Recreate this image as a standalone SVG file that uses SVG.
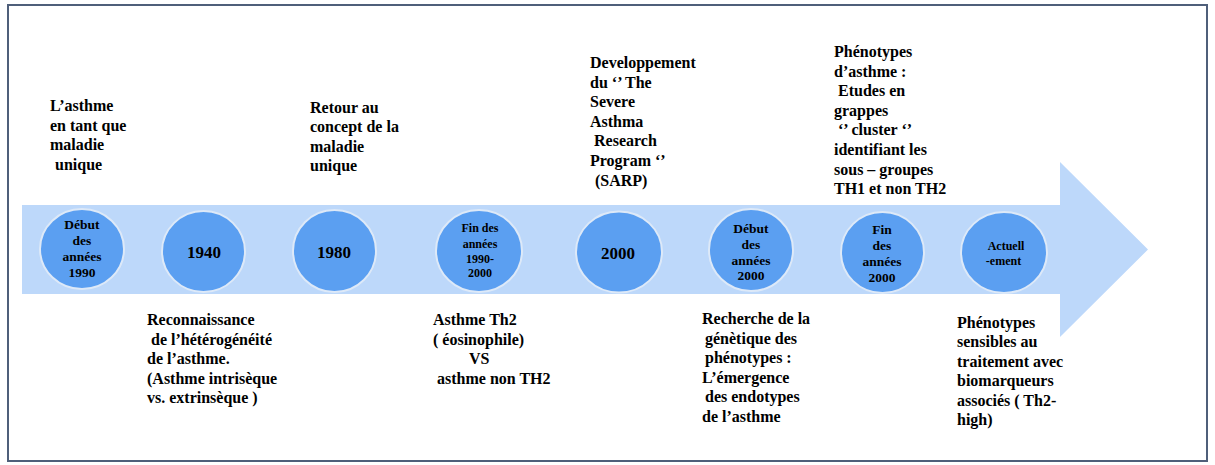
<svg xmlns="http://www.w3.org/2000/svg" width="1215" height="465" viewBox="0 0 1215 465">
<style>
.frame{fill:#fff;stroke:#4f5f7a;stroke-width:2}
.band{fill:#bdd8fa}
.dot{fill:#5b9ff1;stroke:#dde9f8;stroke-width:2}
.t{font-family:'Liberation Serif','Times New Roman','DejaVu Serif',serif;font-weight:700;fill:#000}
.lbl{font-size:16px}
.c{text-anchor:middle}
.cs{font-size:13.5px}
.cx{font-size:12px}
.cy{font-size:17px}
</style>
<rect class="frame" x="8" y="5" width="1199" height="456"/>
<g id="connectors">
<polygon class="band" points="22,205 1060,205 1060,162 1148,249.5 1060,337 1060,294 22,294"/>
</g>
<g font-family="Liberation Serif, Times New Roman, serif" font-weight="bold">
<g id="n1">
<ellipse class="dot" cx="82" cy="249" rx="42" ry="40"/>
<text class="t c cs" x="82"><tspan x="82" y="229">Début</tspan><tspan x="82" y="245">des</tspan><tspan x="82" y="261">années</tspan><tspan x="82" y="277">1990</tspan></text>
<text class="t lbl"><tspan x="50" y="111">L’asthme</tspan><tspan x="50" y="130.5">en tant que</tspan><tspan x="50" y="150">maladie</tspan><tspan x="55" y="169.5">unique</tspan></text>
</g>
<g id="n2">
<ellipse class="dot" cx="203.5" cy="251.5" rx="41.5" ry="40.5"/>
<text class="t c cy" x="204" y="258">1940</text>
<text class="t lbl"><tspan x="147" y="325">Reconnaissance</tspan><tspan x="151" y="344.5">de l’hétérogénéité</tspan><tspan x="147" y="364">de l’asthme.</tspan><tspan x="147" y="383.5">(Asthme intrisèque</tspan><tspan x="147" y="403">vs. extrinsèque )</tspan></text>
</g>
<g id="n3">
<ellipse class="dot" cx="334.5" cy="251" rx="41.5" ry="41"/>
<text class="t c cy" x="334" y="257.5">1980</text>
<text class="t lbl"><tspan x="310" y="112.5">Retour au</tspan><tspan x="310" y="132">concept de la</tspan><tspan x="310" y="151.5">maladie</tspan><tspan x="310" y="171">unique</tspan></text>
</g>
<g id="n4">
<ellipse class="dot" cx="479" cy="251" rx="43" ry="41"/>
<text class="t c cx" x="480"><tspan x="480" y="232">Fin des</tspan><tspan x="480" y="247.5">années</tspan><tspan x="480" y="262.5">1990-</tspan><tspan x="480" y="277">2000</tspan></text>
<text class="t lbl"><tspan x="433" y="325">Asthme Th2</tspan><tspan x="433" y="344.5">( éosinophile)</tspan><tspan x="469" y="364">VS</tspan><tspan x="437" y="383.5">asthme non TH2</tspan></text>
</g>
<g id="n5">
<ellipse class="dot" cx="619" cy="252" rx="43" ry="40.5"/>
<text class="t c cy" x="618" y="258.5">2000</text>
<text class="t lbl"><tspan x="590" y="68">Developpement</tspan><tspan x="590" y="87.5">du ‘’ The</tspan><tspan x="590" y="107">Severe</tspan><tspan x="590" y="126.5">Asthma</tspan><tspan x="594" y="146">Research</tspan><tspan x="590" y="165.5">Program ‘’</tspan><tspan x="595" y="185.5">(SARP)</tspan></text>
</g>
<g id="n6">
<ellipse class="dot" cx="751" cy="250" rx="42" ry="41"/>
<text class="t c cs" x="751"><tspan x="751" y="232.5">Début</tspan><tspan x="751" y="248.5">des</tspan><tspan x="751" y="264.5">années</tspan><tspan x="751" y="280">2000</tspan></text>
<text class="t lbl"><tspan x="702" y="324">Recherche de la</tspan><tspan x="705" y="343.5">génètique des</tspan><tspan x="705" y="363">phénotypes :</tspan><tspan x="702" y="382.5">L’émergence</tspan><tspan x="705" y="402">des endotypes</tspan><tspan x="702" y="421.5">de l’asthme</tspan></text>
</g>
<g id="n7">
<ellipse class="dot" cx="882.5" cy="252.5" rx="41.5" ry="40.5"/>
<text class="t c cs" x="882"><tspan x="882" y="233.5">Fin</tspan><tspan x="882" y="249.5">des</tspan><tspan x="882" y="265.5">années</tspan><tspan x="882" y="281.5">2000</tspan></text>
<text class="t lbl"><tspan x="834" y="57">Phénotypes</tspan><tspan x="834" y="76.5">d’asthme :</tspan><tspan x="838" y="96">Etudes en</tspan><tspan x="834" y="115.5">grappes</tspan><tspan x="838" y="135">‘’ cluster ‘’</tspan><tspan x="834" y="155">identifiant les</tspan><tspan x="834" y="174.5">sous – groupes</tspan><tspan x="834" y="194">TH1 et non TH2</tspan></text>
</g>
<g id="n8">
<ellipse class="dot" cx="1004" cy="252.5" rx="43" ry="40.5"/>
<text class="t c cx" x="1005"><tspan x="1006" y="249.5">Actuell</tspan><tspan x="1003.5" y="265">-ement</tspan></text>
<text class="t lbl"><tspan x="957" y="327.5">Phénotypes</tspan><tspan x="957" y="347">sensibles au</tspan><tspan x="957" y="366.5">traitement avec</tspan><tspan x="957" y="386">biomarqueurs</tspan><tspan x="957" y="405.5">associés ( Th2-</tspan><tspan x="957" y="425">high)</tspan></text>
</g>
</g>
</svg>
